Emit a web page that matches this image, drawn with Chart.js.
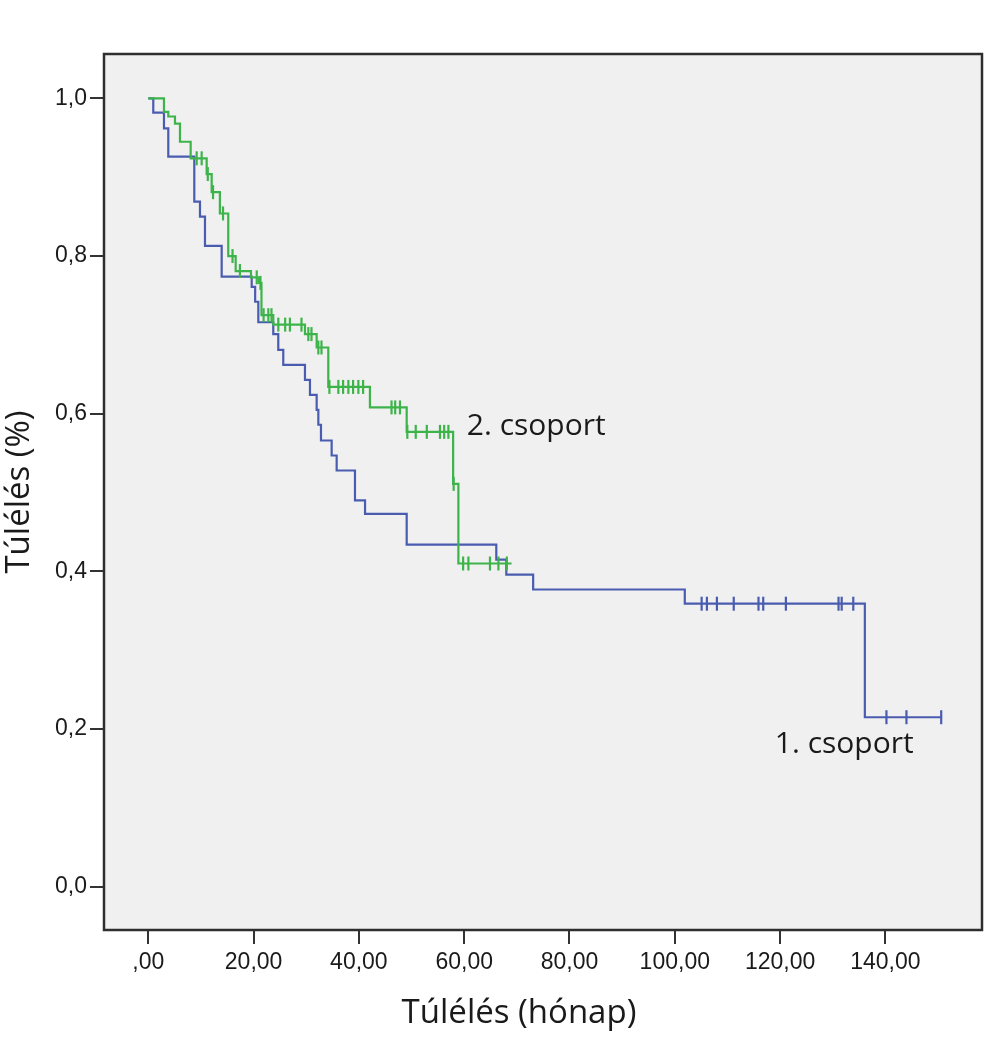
<!DOCTYPE html>
<html>
<head>
<meta charset="utf-8">
<script src="https://cdn.jsdelivr.net/npm/chart.js@4.4.1/dist/chart.umd.min.js"></script>
<style>
  html, body { margin: 0; padding: 0; background: #ffffff; }
  #wrap { width: 992px; height: 1040px; }
</style>
</head>
<body>
<div id="wrap"><canvas id="c" width="992" height="1040"></canvas></div>
<script>
// ---- Data ----
const xTickValues = [0, 20, 40, 60, 80, 100, 120, 140];
const xTickLabels = [",00", "20,00", "40,00", "60,00", "80,00", "100,00", "120,00", "140,00"];
const yTickValues = [0, 0.2, 0.4, 0.6, 0.8, 1.0];
const yTickLabels = ["0,0", "0,2", "0,4", "0,6", "0,8", "1,0"];

const group1Name = "1. csoport";
const group2Name = "2. csoport";

// Group 1 (blue): event times (months) and survival after each step
const group1Times = [0, 0.95, 2.98, 3.8, 8.74, 9.82, 10.77, 13.94, 19.64, 20.3, 20.9, 23.74, 24.69, 25.64, 29.76, 30.71, 31.98, 32.3, 32.8, 34.83, 35.78, 39.26, 41.17, 49.08, 66.1, 68.0, 73.1, 101.9, 136.1, 150.6];
const group1Surv  = [1.0, 0.982, 0.962, 0.926, 0.869, 0.850, 0.813, 0.774, 0.761, 0.742, 0.716, 0.701, 0.681, 0.662, 0.643, 0.624, 0.605, 0.586, 0.566, 0.547, 0.528, 0.490, 0.473, 0.434, 0.415, 0.396, 0.377, 0.359, 0.215, 0.215];
// Group 1 censored observations
const group1CensTimes = [105.1, 106.1, 108.0, 111.2, 115.9, 116.8, 121.1, 131.1, 131.7, 133.9, 140.2, 144.0, 150.6];
const group1CensSurv  = [0.359, 0.359, 0.359, 0.359, 0.359, 0.359, 0.359, 0.359, 0.359, 0.359, 0.215, 0.215, 0.215];

// Group 2 (green)
const group2Times = [0, 2.98, 3.8, 5.07, 6.02, 8.05, 11.09, 12.04, 13.6, 15.19, 16.6, 19.5, 21.0, 21.5, 23.74, 29.76, 31.98, 34.19, 42.1, 49.08, 57.9, 58.9, 69.0];
const group2Surv  = [1.0, 0.983, 0.977, 0.968, 0.945, 0.924, 0.904, 0.881, 0.854, 0.800, 0.781, 0.773, 0.766, 0.725, 0.713, 0.701, 0.684, 0.634, 0.608, 0.577, 0.511, 0.410, 0.410];
const group2CensTimes = [9.19, 10.14, 11.3, 12.3, 14.2, 16.0, 17.4, 20.6, 21.3, 21.9, 22.8, 23.4, 24.7, 26.0, 26.9, 29.1, 30.4, 31.0, 32.3, 32.9, 34.4, 36.1, 37.0, 38.0, 38.9, 39.9, 40.8, 46.2, 46.9, 47.8, 49.2, 50.8, 52.9, 55.4, 56.2, 57.0, 58.0, 59.8, 60.8, 64.9, 66.5, 68.1];
const group2CensSurv  = [0.924, 0.924, 0.904, 0.881, 0.854, 0.800, 0.781, 0.773, 0.766, 0.725, 0.725, 0.725, 0.713, 0.713, 0.713, 0.713, 0.701, 0.701, 0.684, 0.684, 0.634, 0.634, 0.634, 0.634, 0.634, 0.634, 0.634, 0.608, 0.608, 0.608, 0.577, 0.577, 0.577, 0.577, 0.577, 0.577, 0.511, 0.410, 0.410, 0.410, 0.410, 0.410];

const xTitle = "Túlélés (hónap)";
const yTitle = "Túlélés (%)";

// ---- Styles ----
const BLUE = "#4a5cb0";
const GREEN = "#3db44a";
const TEXT = "#1a1a1a";

const toPts = (xs, ys) => xs.map((x, i) => ({ x: x, y: ys[i] }));

const frameAndLabels = {
  id: "frameAndLabels",
  beforeDraw(chart) {
    const { ctx, chartArea: a } = chart;
    ctx.save();
    ctx.fillStyle = "#f0f0f0";
    ctx.fillRect(a.left, a.top, a.right - a.left, a.bottom - a.top);
    ctx.restore();
  },
  afterDraw(chart) {
    const { ctx, chartArea: a, scales } = chart;
    ctx.save();
    ctx.strokeStyle = "#2e2e2e";
    ctx.lineWidth = 2.5;
    ctx.strokeRect(a.left, a.top, a.right - a.left, a.bottom - a.top);
    // x-axis title
    ctx.fillStyle = TEXT;
    ctx.font = "33px 'Open Sans', 'Noto Sans', sans-serif";
    ctx.textAlign = "center";
    ctx.textBaseline = "alphabetic";
    ctx.fillText(xTitle, 519, 1023);
    // group labels
    ctx.font = "30px 'Open Sans', 'Noto Sans', sans-serif";
    ctx.textAlign = "left";
    ctx.fillText(group2Name, scales.x.getPixelForValue(60.5), scales.y.getPixelForValue(0.575) + 2);
    ctx.fillText(group1Name, scales.x.getPixelForValue(119), scales.y.getPixelForValue(0.175) + 4);
    ctx.restore();
  }
};

new Chart(document.getElementById("c"), {
  type: "scatter",
  data: {
    datasets: [
      {
        label: group2Name,
        data: toPts(group2Times, group2Surv),
        showLine: true, stepped: true,
        borderColor: GREEN, borderWidth: 2.2, pointRadius: 0, order: 1
      },
      {
        label: group2Name + " (cenzorált)",
        data: toPts(group2CensTimes, group2CensSurv),
        showLine: false, pointStyle: "line", rotation: 90, pointRadius: 7,
        borderColor: GREEN, backgroundColor: GREEN, pointBorderWidth: 2.2, order: 0
      },
      {
        label: group1Name,
        data: toPts(group1Times, group1Surv),
        showLine: true, stepped: true,
        borderColor: BLUE, borderWidth: 2.2, pointRadius: 0, order: 3
      },
      {
        label: group1Name + " (cenzorált)",
        data: toPts(group1CensTimes, group1CensSurv),
        showLine: false, pointStyle: "line", rotation: 90, pointRadius: 7,
        borderColor: BLUE, backgroundColor: BLUE, pointBorderWidth: 2.2, order: 2
      }
    ]
  },
  options: {
    responsive: false,
    animation: false,
    layout: { padding: { top: 54, right: 10, left: 0, bottom: 0 } },
    plugins: { legend: { display: false }, tooltip: { enabled: false } },
    scales: {
      x: {
        type: "linear",
        min: -8.41, max: 158.35,
        afterBuildTicks(s) { s.ticks = xTickValues.map(v => ({ value: v })); },
        afterFit(s) { s.height = 110; },
        grid: { drawOnChartArea: false, drawTicks: true, tickLength: 14, color: "#333", lineWidth: 2 },
        border: { display: false },
        ticks: {
          padding: 5, color: TEXT,
          font: { family: "'Liberation Sans', Arial, sans-serif", size: 23 },
          callback: (v) => { const i = xTickValues.indexOf(v); return i >= 0 ? xTickLabels[i] : ""; }
        }
      },
      y: {
        type: "linear",
        min: -0.0549, max: 1.0563,
        afterBuildTicks(s) { s.ticks = yTickValues.map(v => ({ value: v })); },
        afterFit(s) { s.width = 104; },
        grid: { drawOnChartArea: false, drawTicks: true, tickLength: 14, color: "#333", lineWidth: 2 },
        border: { display: false },
        title: {
          display: true, text: yTitle, color: TEXT,
          font: { family: "'Open Sans', 'Noto Sans', sans-serif", size: 33 },
          padding: { top: 0, bottom: 0 }
        },
        ticks: {
          padding: 3, color: TEXT,
          font: { family: "'Liberation Sans', Arial, sans-serif", size: 23 },
          callback: (v) => { const i = yTickValues.findIndex(t => Math.abs(t - v) < 1e-9); return i >= 0 ? yTickLabels[i] : ""; }
        }
      }
    }
  },
  plugins: [frameAndLabels]
});
</script>
</body>
</html>
